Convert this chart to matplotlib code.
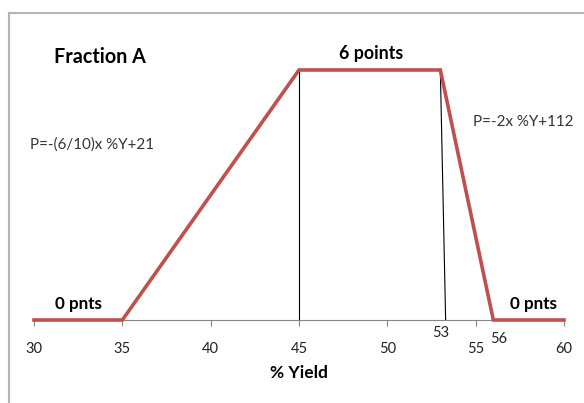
import matplotlib.pyplot as plt
from matplotlib.lines import Line2D

# scoring curve for Fraction A
yield_pct = [30, 35, 45, 53, 56, 60]
points = [0, 0, 6, 6, 0, 0]
x_ticks = [30, 35, 40, 45, 50, 55, 60]

# thin black guide lines
guide_45_x = [45, 45]
guide_45_y = [0, 6]
guide_53_x = [53, 53.3]
guide_53_y = [6, 0]

plt.rcParams['font.family'] = ['Lato', 'DejaVu Sans']

fig = plt.figure(figsize=(5.84, 4.03), dpi=100)
W, H = 584, 403
ax = fig.add_axes([34 / W, 1 - 320 / H, 530 / W, (320 - 28.3) / H])

ax.plot(guide_45_x, guide_45_y, color="black", lw=0.8, clip_on=False)
ax.plot(guide_53_x, guide_53_y, color="black", lw=0.8, clip_on=False)
ax.plot(yield_pct, points, color="#C0504D", lw=2.6, clip_on=False,
        solid_joinstyle="miter", zorder=3)

ax.set_xlim(30, 60)
ax.set_ylim(0, 7)
for s in ["left", "top", "right"]:
    ax.spines[s].set_visible(False)
ax.spines["bottom"].set_color("#868686")
ax.spines["bottom"].set_linewidth(0.8)
ax.set_yticks([])
ax.set_xticks(x_ticks)
ax.tick_params(axis="x", length=4, width=0.8, color="#868686",
               labelsize=10.5, pad=12, labelcolor="#222222")
ax.set_xlabel("% Yield", fontsize=12.5, fontweight="bold", labelpad=6)

ax.text(53, -0.3, "53", ha="center", va="center", fontsize=10.5, color="#222222")
ax.text(56.3, -0.45, "56", ha="center", va="center", fontsize=10.5, color="#222222")

ax.text(0.038, 0.9, "Fraction A", transform=ax.transAxes, fontsize=14.2,
        fontweight="bold", ha="left", va="center")
ax.text(49.1, 6.4, "6 points", fontsize=12.8, fontweight="bold", ha="center", va="center")
ax.text(32.5, 0.38, "0 pnts", fontsize=12.3, fontweight="bold", ha="center", va="center")
ax.text(58.3, 0.38, "0 pnts", fontsize=12.3, fontweight="bold", ha="center", va="center")
ax.text(29.8, 4.2, "P=-(6/10)x %Y+21", fontsize=10.9, ha="left", va="center",
        color="#333333")
ax.text(54.85, 4.74, "P=-2x %Y+112", fontsize=10.9, ha="left", va="center",
        color="#333333")

# chart frame (only the left and top edges fall inside the image)
fig.add_artist(Line2D([8.5 / W, 8.5 / W], [0, 1 - 12.5 / H], color="#B4B4B4", lw=1.5))
fig.add_artist(Line2D([8.5 / W, 1], [1 - 12.5 / H, 1 - 12.5 / H], color="#B4B4B4", lw=1.5))

fig.savefig("out.png", dpi=100)
